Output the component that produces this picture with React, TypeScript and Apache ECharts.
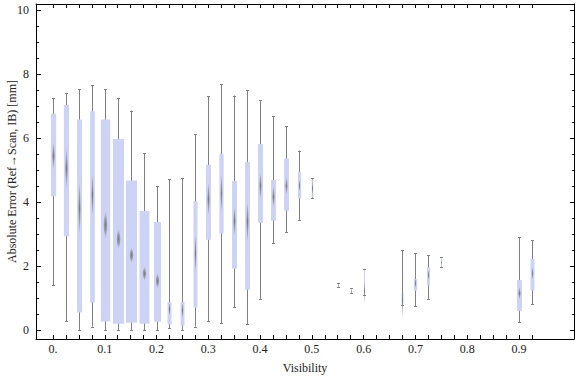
import React, { useEffect, useRef } from "react";
import * as echarts from "echarts";

// Group positions (visibility)
const positions = [0, 0.025, 0.05, 0.075, 0.1, 0.125, 0.15, 0.175, 0.2, 0.225, 0.25, 0.275, 0.3, 0.325, 0.35, 0.375, 0.4, 0.425, 0.45, 0.475, 0.5, 0.55, 0.575, 0.6, 0.675, 0.7, 0.725, 0.75, 0.9, 0.925];
const whiskerLow = [1.40, 0.28, 0.0, 0.11, 0.0, 0.0, 0.0, 0.0, 0.0, 0.05, 0.0, 0.11, 0.28, 0.21, 0.71, 0.18, 0.96, 2.71, 3.05, 3.43, 4.12, 1.33, 1.15, 1.11, 0.77, 0.74, 0.96, 1.96, 0.24, 0.80];
const quart1 = [4.18, 2.93, 0.55, 0.86, 0.27, 0.20, 0.23, 0.20, 0.26, 0.17, 0.14, 0.70, 2.82, 3.01, 1.92, 1.26, 3.35, 3.42, 3.73, 4.12, 4.15, 1.35, 1.17, 1.12, 0.77, 1.23, 1.39, 1.98, 0.60, 1.23];
const medians = [5.44, 5.05, 3.80, 4.22, 3.28, 2.83, 2.34, 1.77, 1.54, 0.68, 0.62, 2.40, 4.08, 4.27, 3.40, 3.40, 4.50, 4.17, 4.50, 4.52, 4.43, 1.40, 1.22, 1.20, 0.95, 1.46, 1.72, 2.10, 1.15, 1.77];
const quart3 = [6.76, 7.03, 6.58, 6.84, 6.58, 5.97, 4.67, 3.72, 3.38, 0.875, 0.875, 4.03, 5.16, 5.50, 4.66, 5.25, 5.81, 4.69, 5.36, 4.95, 4.70, 1.44, 1.28, 1.88, 1.17, 1.59, 1.96, 2.25, 1.56, 2.22];
const whiskerHigh = [7.24, 7.40, 7.52, 7.65, 7.52, 7.24, 6.86, 5.53, 4.49, 4.72, 4.75, 6.12, 7.31, 7.68, 7.33, 7.49, 7.18, 6.68, 6.37, 5.61, 4.74, 1.46, 1.30, 1.90, 2.50, 2.40, 2.33, 2.27, 2.91, 2.81];
const notchLow = [5.0, 4.38, 2.92, 3.49, 2.81, 2.5, 2.08, 1.53, 1.28, 0.42, 0.36, 1.77, 3.54, 3.65, 2.92, 2.71, 4.06, 3.8, 4.22, 4.32, 4.13, 1.36, 1.18, 0.76, 0.23, 1.3, 1.55, 2.0, 0.94, 1.56];
const notchHigh = [5.89, 5.73, 4.69, 4.95, 3.75, 3.18, 2.6, 2.0, 1.8, 0.88, 0.88, 3.02, 4.64, 4.9, 3.9, 4.06, 4.95, 4.53, 4.79, 4.71, 4.73, 1.44, 1.26, 1.64, 1.67, 1.62, 1.89, 2.2, 1.36, 1.98];
// relative sample size (drives box width)
const relSize = [0.48, 0.48, 0.45, 0.43, 0.85, 1, 1, 0.91, 0.64, 0.36, 0.36, 0.36, 0.45, 0.39, 0.45, 0.45, 0.45, 0.45, 0.45, 0.3, 0.14, 0.09, 0.09, 0.09, 0.18, 0.3, 0.27, 0.09, 0.45, 0.36];

// Axis ticks / labels
const xTickValues = [0, 0.025, 0.05, 0.075, 0.1, 0.125, 0.15, 0.175, 0.2, 0.225, 0.25, 0.275, 0.3, 0.325, 0.35, 0.375, 0.4, 0.425, 0.45, 0.475, 0.5, 0.525, 0.55, 0.575, 0.6, 0.625, 0.65, 0.675, 0.7, 0.725, 0.75, 0.775, 0.8, 0.825, 0.85, 0.875, 0.9, 0.925];
const xLabelValues = [0, 0.1, 0.2, 0.3, 0.4, 0.5, 0.6, 0.7, 0.8, 0.9];
const yMajorValues = [0, 2, 4, 6, 8, 10];
const yMinorValues = [0.5, 1, 1.5, 2.5, 3, 3.5, 4.5, 5, 5.5, 6.5, 7, 7.5, 8.5, 9, 9.5];

const X_MIN = -0.0328;
const X_MAX = 1.0063;
const Y_MIN = -0.28;
const Y_MAX = 10.19;
const MAX_BOX_W = 0.0212;

const FONT = "'Liberation Serif', 'Times New Roman', serif";
const TEXT = "#222";
const BOX = "#CDD3F4";
const WHISK = "#808080";

export default function App() {
  const ref = useRef<HTMLDivElement>(null);
  useEffect(() => {
    if (!ref.current) return;
    const chart = echarts.init(ref.current, undefined, { renderer: "svg" });
    const data = positions.map((p, i) => [p, whiskerLow[i], quart1[i], medians[i], quart3[i], whiskerHigh[i], notchLow[i], notchHigh[i], relSize[i]]);

    const axisLine = { show: true, onZero: false, lineStyle: { color: "#000", width: 1 } };
    const noLine = { show: false, onZero: false };
    const baseX = { type: "value", min: X_MIN, max: X_MAX, splitLine: { show: false } };
    const baseY = { type: "value", min: Y_MIN, max: Y_MAX, splitLine: { show: false } };

    chart.setOption({
      animation: false,
      backgroundColor: "#fff",
      grid: { left: 36, right: 2, top: 4, bottom: 38, containLabel: false, outerBoundsMode: "none" },
      xAxis: [
        {
          ...baseX,
          position: "bottom",
          axisLine,
          axisTick: { show: true, inside: true, length: 4, customValues: xTickValues, lineStyle: { color: "#000" } },
          axisLabel: {
            show: true,
            customValues: xLabelValues,
            margin: 4,
            color: TEXT,
            fontFamily: FONT,
            fontSize: 12,
            formatter: (v: number) => (v === 0 ? "0." : String(v)),
          },
          name: "Visibility",
          nameLocation: "middle",
          nameGap: 23,
          nameMoveOverlap: false,
          nameTextStyle: { color: TEXT, fontFamily: FONT, fontSize: 12 },
        },
        {
          ...baseX,
          position: "top",
          axisLine,
          axisTick: { show: true, inside: true, length: 4, customValues: xTickValues, lineStyle: { color: "#000" } },
          axisLabel: { show: false },
        },
      ],
      yAxis: [
        {
          ...baseY,
          position: "left",
          axisLine,
          axisTick: { show: true, inside: true, length: 5, customValues: yMajorValues, lineStyle: { color: "#000" } },
          axisLabel: {
            show: true,
            customValues: yMajorValues,
            margin: 7,
            color: TEXT,
            fontFamily: FONT,
            fontSize: 12,
          },
          name: "Absolute Error (Ref\u2192Scan, IB) [mm]",
          nameLocation: "middle",
          nameGap: 18,
          nameMoveOverlap: false,
          nameTextStyle: { color: TEXT, fontFamily: FONT, fontSize: 12 },
        },
        {
          ...baseY,
          position: "left",
          offset: 0,
          axisLine: noLine,
          axisTick: { show: true, inside: true, length: 3, customValues: yMinorValues, lineStyle: { color: "#000" } },
          axisLabel: { show: false },
        },
        {
          ...baseY,
          position: "right",
          axisLine,
          axisTick: { show: true, inside: true, length: 4, customValues: yMajorValues, lineStyle: { color: "#000" } },
          axisLabel: { show: false },
        },
        {
          ...baseY,
          position: "right",
          offset: 0,
          axisLine: noLine,
          axisTick: { show: true, inside: true, length: 2, customValues: yMinorValues, lineStyle: { color: "#000" } },
          axisLabel: { show: false },
        },
      ],
      series: [
        {
          type: "custom",
          xAxisIndex: 0,
          yAxisIndex: 0,
          encode: { x: 0, y: [1, 2, 3, 4, 5] },
          data,
          renderItem: (params: any, api: any) => {
            const x = api.value(0);
            const wl = api.value(1);
            const q1 = api.value(2);
            const med = api.value(3);
            const q3 = api.value(4);
            const wh = api.value(5);
            const nl = api.value(6);
            const nh = api.value(7);
            const rel = api.value(8);
            const cx = Math.round(api.coord([x, 0])[0]) + 0.5;
            const yOf = (v: number) => api.coord([x, v])[1];
            const w = Math.max(1, api.size([MAX_BOX_W, 0])[0] * rel);
            const dw = Math.max(1, Math.min(w * 0.62, 4.8));
            const capHalf = 1.5;
            const lineStyle = { stroke: WHISK, lineWidth: 1 };
            return {
              type: "group",
              children: [
                { type: "line", shape: { x1: cx, y1: yOf(wl), x2: cx, y2: yOf(wh) }, style: lineStyle },
                { type: "line", shape: { x1: cx - capHalf, y1: Math.round(yOf(wl)) + 0.5, x2: cx + capHalf, y2: Math.round(yOf(wl)) + 0.5 }, style: lineStyle },
                { type: "line", shape: { x1: cx - capHalf, y1: Math.round(yOf(wh)) + 0.5, x2: cx + capHalf, y2: Math.round(yOf(wh)) + 0.5 }, style: lineStyle },
                {
                  type: "rect",
                  shape: { x: cx - w / 2, y: yOf(q3), width: w, height: yOf(q1) - yOf(q3) },
                  style: { fill: BOX },
                },
                {
                  type: "polygon",
                  shape: {
                    points: [
                      [cx, yOf(nh)],
                      [cx + dw / 2, yOf(med)],
                      [cx, yOf(nl)],
                      [cx - dw / 2, yOf(med)],
                    ],
                  },
                  style: {
                    fill: new echarts.graphic.RadialGradient(0.5, 0.5, 0.5, [
                      { offset: 0, color: "rgba(110,110,115,0.9)" },
                      { offset: 0.55, color: "rgba(130,130,140,0.6)" },
                      { offset: 1, color: "rgba(170,170,185,0.05)" },
                    ]),
                  },
                },
              ],
            };
          },
        },
      ],
    });
    return () => chart.dispose();
  }, []);
  return (
    <div
      ref={ref}
      style={{ position: "fixed", left: 0, top: 0, width: 576, height: 377, background: "#fff" }}
    />
  );
}
